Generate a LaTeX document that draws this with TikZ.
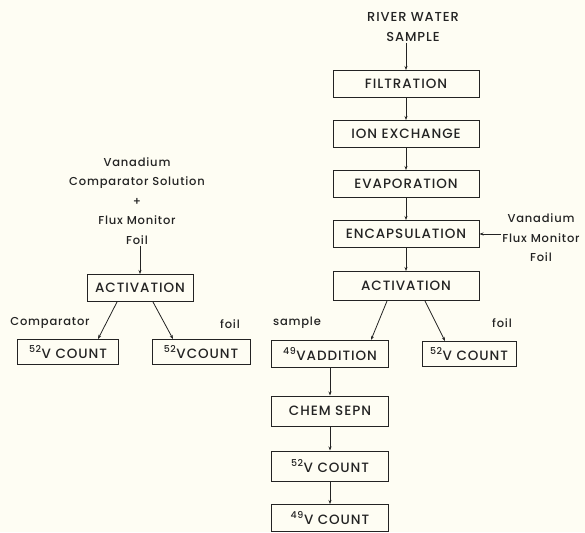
\documentclass[tikz,border=0pt]{standalone}
\usepackage{fontspec}
\setmainfont{Poppins}[LetterSpace=7, UprightFont=* Medium]
\usetikzlibrary{arrows.meta}
\definecolor{papercream}{RGB}{254,253,243}
\definecolor{inkgray}{RGB}{35,35,35}
\tikzset{
	stepbox/.style={draw=inkgray, line width=1pt, rectangle, inner sep=0pt, minimum height=27pt, font=\fontsize{13.5}{15}\selectfont, text=inkgray},
	sidetext/.style={align=center, inner sep=1pt, font=\fontsize{11.5}{19.5}\selectfont, text=inkgray},
	captext/.style={align=center, inner sep=1pt, font=\fontsize{13}{19.5}\selectfont, text=inkgray},
	flow/.style={draw=inkgray, line width=0.8pt, -{Stealth[length=4pt, width=3pt]}},
}

\begin{document}
\begin{tikzpicture}[x=1pt, y=-1pt]
	\useasboundingbox[fill=papercream] (0, 0) rectangle (585, 532);
	% main column
	\node[captext](river) at (413, 27){RIVER WATER\\SAMPLE};
	\node[stepbox, minimum width=146pt](filt) at (406, 84){FILTRATION};
	\node[stepbox, minimum width=146pt](ionx) at (406, 134){ION EXCHANGE};
	\node[stepbox, minimum width=146pt](evap) at (406, 184){EVAPORATION};
	\node[stepbox, minimum width=146pt](encap) at (406, 234){ENCAPSULATION};
	\node[stepbox, minimum width=146pt, minimum height=29pt](actR) at (406, 286){ACTIVATION};
	\node[sidetext](monR) at (541, 238){Vanadium\\Flux Monitor\\Foil};
	\node[stepbox, minimum width=117pt](vadd) at (330, 354){\textsuperscript{49}VADDITION};
	\node[stepbox, minimum width=117pt, minimum height=30pt](chem) at (330, 411){CHEM SEPN};
	\node[stepbox, minimum width=117pt, minimum height=30pt](cntA) at (330, 466){\textsuperscript{52}V COUNT};
	\node[stepbox, minimum width=117pt](cntB) at (330, 518){\textsuperscript{49}V COUNT};
	\node[stepbox, minimum width=94pt, minimum height=25pt](cntR) at (469, 354){\textsuperscript{52}V COUNT};
	\node[sidetext](smpl) at (297, 323){sample};
	\node[sidetext](foilR) at (502, 323){foil};
	% comparator column
	\node[sidetext](monL) at (137, 201){Vanadium\\Comparator Solution\\+\\Flux Monitor\\Foil};
	\node[stepbox, minimum width=106pt](actL) at (140, 288){ACTIVATION};
	\node[stepbox, minimum width=101pt, minimum height=25pt](cntL) at (68, 352){\textsuperscript{52}V COUNT};
	\node[stepbox, minimum width=98pt, minimum height=25pt](cntM) at (201, 352){\textsuperscript{52}VCOUNT};
	\node[sidetext](cmpr) at (50, 323){Comparator};
	\node[sidetext](foilL) at (230, 324){foil};
	% connectors
	\draw[flow] (river.south -| filt.north) -- (filt.north);
	\draw[flow] (filt) -- (ionx);
	\draw[flow] (ionx) -- (evap);
	\draw[flow] (evap) -- (encap);
	\draw[flow] (encap) -- (actR);
	\draw[flow] (monR.west |- encap.east) -- (encap.east);
	\draw[flow] ([xshift=-19pt]actR.south) -- ([xshift=41pt]vadd.north);
	\draw[flow] ([xshift=19pt]actR.south) -- ([xshift=-24pt]cntR.north);
	\draw[flow] (vadd) -- (chem);
	\draw[flow] (chem) -- (cntA);
	\draw[flow] (cntA) -- (cntB);
	\draw[flow] (monL.south -| actL.north) -- (actL.north);
	\draw[flow] ([xshift=-23pt]actL.south) -- ([xshift=30pt]cntL.north);
	\draw[flow] ([xshift=13pt]actL.south) -- ([xshift=-28pt]cntM.north);
\end{tikzpicture}
\end{document}
